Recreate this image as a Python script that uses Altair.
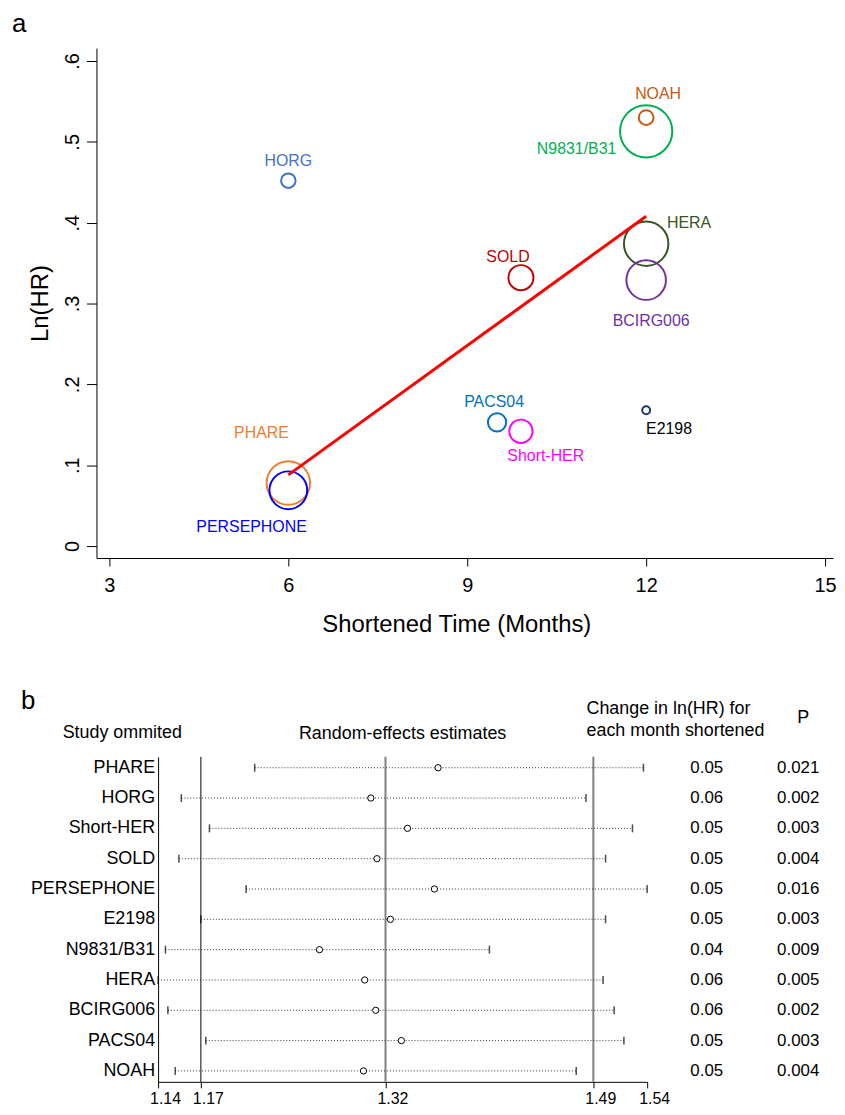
import altair as alt
import pandas as pd

FONT = "Liberation Sans"

# ---------------- panel a data ----------------
studies = ["HORG", "NOAH", "N9831/B31", "HERA", "BCIRG006", "SOLD",
           "PACS04", "Short-HER", "E2198", "PHARE", "PERSEPHONE"]
shortened_months = [6, 12, 12, 12, 12, 9.9, 9.5, 9.9, 12, 6, 6]
ln_hr = [0.452, 0.530, 0.513, 0.374, 0.329, 0.332, 0.153, 0.142, 0.168, 0.078, 0.069]
weights = [2.56, 2.66, 33.3, 24.0, 19.1, 7.67, 4.1, 6.6, 0.76, 23.0, 17.4]

fit_months = [6, 12]
fit_lnhr = [0.088, 0.408]

# styles
bubble_colors = ["#4472C4", "#C55A11", "#00B050", "#375623", "#7030A0", "#C00000",
                 "#0070C0", "#FF00FF", "#1F3864", "#ED7D31", "#0000FF"]
label_colors = ["#4472C4", "#C55A11", "#00B050", "#375623", "#7030A0", "#C00000",
                "#0070C0", "#FF00FF", "#000000", "#ED7D31", "#0000FF"]
label_style = {
    "HORG": (0, -20, "center"),
    "NOAH": (12, -24, "center"),
    "N9831/B31": (-30, 18, "right"),
    "HERA": (21, -21, "left"),
    "BCIRG006": (5, 41, "center"),
    "SOLD": (-13, -21, "center"),
    "PACS04": (-3, -20, "center"),
    "Short-HER": (25, 25, "center"),
    "E2198": (23, 19, "center"),
    "PHARE": (-27, -50, "center"),
    "PERSEPHONE": (-37, 37, "center"),
}

# ---------------- panel b data ----------------
omitted = ["PHARE", "HORG", "Short-HER", "SOLD", "PERSEPHONE", "E2198",
           "N9831/B31", "HERA", "BCIRG006", "PACS04", "NOAH"]
re_est = [1.367, 1.312, 1.342, 1.317, 1.364, 1.328, 1.270, 1.307, 1.316, 1.337, 1.306]
re_lo = [1.217, 1.157, 1.180, 1.155, 1.210, 1.173, 1.144, 1.138, 1.146, 1.177, 1.152]
re_hi = [1.535, 1.488, 1.526, 1.504, 1.538, 1.504, 1.409, 1.502, 1.511, 1.519, 1.480]
slope_txt = ["0.05", "0.06", "0.05", "0.05", "0.05", "0.05", "0.04", "0.06", "0.06", "0.05", "0.05"]
p_txt = ["0.021", "0.002", "0.003", "0.004", "0.016", "0.003", "0.009", "0.005", "0.002", "0.003", "0.004"]
overall_lo, overall_est, overall_hi = 1.173, 1.324, 1.494

# ================= panel a =================
bub = pd.DataFrame({"study": studies, "months": shortened_months,
                    "lnhr": ln_hr, "weight": weights})
fit = pd.DataFrame({"months": fit_months, "lnhr": fit_lnhr})

xA = alt.X("months:Q",
           scale=alt.Scale(domain=[2.783, 15.133], nice=False, zero=False),
           axis=alt.Axis(values=[3, 6, 9, 12, 15], title="Shortened Time (Months)",
                         grid=False, tickSize=8, labelFontSize=20, titleFontSize=24,
                         labelPadding=10, titlePadding=17, titleFontWeight="normal",
                         titleX=362, titleAlign="center",
                         domainColor="black", tickColor="black", labelColor="black",
                         titleColor="black", labelFlush=False, labelFont=FONT, titleFont=FONT))
yA = alt.Y("lnhr:Q",
           scale=alt.Scale(domain=[-0.0148, 0.616], nice=False, zero=False),
           axis=alt.Axis(values=[0, 0.1, 0.2, 0.3, 0.4, 0.5, 0.6], title="Ln(HR)",
                         labelExpr="datum.value == 0 ? '0' : replace(format(datum.value, '.1f'), '0.', '.')",
                         labelAngle=270, labelAlign="center", labelBaseline="bottom",
                         grid=False, tickSize=10, labelFontSize=20,
                         titleFontSize=24, titleFontWeight="normal", labelPadding=4,
                         titlePadding=10, domainColor="black", tickColor="black",
                         labelColor="black", titleColor="black", labelFlush=False,
                         labelFont=FONT, titleFont=FONT))

bubbles = alt.Chart(bub).mark_point(shape="circle", filled=False, strokeWidth=2, opacity=1).encode(
    x=xA, y=yA,
    size=alt.Size("weight:Q", scale=alt.Scale(domain=[0, 10], range=[0, 830]), legend=None),
    color=alt.Color("study:N", scale=alt.Scale(domain=studies, range=bubble_colors), legend=None),
)
line = alt.Chart(fit).mark_line(color="#FF0000", strokeWidth=3).encode(x=xA, y=yA)

label_layers = []
for s, col in zip(studies, label_colors):
    dx, dy, al = label_style[s]
    label_layers.append(
        alt.Chart(bub).transform_filter(alt.datum.study == s)
        .mark_text(dx=dx, dy=dy, align=al, baseline="middle", fontSize=16, font=FONT, color=col)
        .encode(x=xA, y=yA, text="study:N")
    )

chart_a = alt.layer(bubbles, line, *label_layers).properties(
    width=741, height=513,
    title=alt.Title("a", anchor="start", frame="group", fontSize=26, fontWeight="normal",
                    font=FONT, color="black", dx=-85, offset=11),
)

# ================= panel b =================
forest = pd.DataFrame({"study": omitted, "est": re_est, "lo": re_lo, "hi": re_hi,
                       "slope": slope_txt, "p": p_txt})
refs = pd.DataFrame({"v": [overall_lo, overall_est, overall_hi],
                     "kind": ["lo", "est", "hi"]})
ticks_b = [min(re_lo), overall_lo, overall_est, overall_hi, max(re_hi)]

ysc = alt.Scale(type="point", padding=0.36)
xB = alt.X("lo:Q", scale=alt.Scale(domain=[min(re_lo), max(re_hi)], nice=False, zero=False),
           axis=alt.Axis(values=ticks_b, format=".2f", title=None, grid=False, tickSize=6,
                         labelFontSize=16, labelPadding=3, labelOffset=7, labelFlush=False,
                         labelOverlap=False, domainColor="black", tickColor="black",
                         labelColor="black", labelFont=FONT))
yB = alt.Y("study:N", sort=omitted, scale=ysc,
           axis=alt.Axis(title=None, labels=False, ticks=False, domainColor="black"))

fb = alt.Chart(forest)
ci = fb.mark_rule(strokeDash=[1, 2], color="#333333", strokeWidth=1).encode(
    x=xB, x2="hi:Q", y=yB)
lo_tick = fb.mark_tick(color="black", size=8, thickness=1.5).encode(x=xB, y=yB)
hi_tick = fb.mark_tick(color="black", size=8, thickness=1.5).encode(x="hi:Q", y=yB)
ref_lo = alt.Chart(refs).transform_filter(alt.datum.kind == "lo").mark_rule(
    color="black", strokeWidth=1).encode(x="v:Q")
ref_other = alt.Chart(refs).transform_filter(alt.datum.kind != "lo").mark_rule(
    color="#7f7f7f", strokeWidth=2).encode(x="v:Q")
est_pts = fb.mark_circle(color="white", stroke="black", strokeWidth=1, opacity=1, size=40).encode(
    x="est:Q", y=yB)

forest_chart = alt.layer(ref_lo, ref_other, ci, lo_tick, hi_tick, est_pts).properties(
    width=492, height=327,
    title=alt.Title("Random-effects estimates", fontSize=18, fontWeight="normal", font=FONT,
                    color="black", anchor="middle", frame="group", dx=0, offset=13),
)

yT = alt.Y("study:N", sort=omitted, scale=ysc, axis=None)
label_col = alt.Chart(forest).mark_text(align="right", dx=29.5, fontSize=18, font=FONT,
                                        color="black", baseline="middle").encode(
    y=yT, text="study:N"
).properties(width=59, height=327,
             title=alt.Title("Study ommited", anchor="start", frame="group", dx=-34, offset=15,
                             fontSize=18, fontWeight="normal", font=FONT, color="black"))

col_slope = alt.Chart(forest).mark_text(fontSize=17, font=FONT, color="black", dx=4).encode(
    y=yT, text="slope:N"
).properties(width=106, height=327,
             title=alt.Title(["Change in ln(HR) for", "each month shortened"], anchor="start",
                             frame="group", fontSize=18, fontWeight="normal", font=FONT,
                             color="black", dx=-64, offset=17, lineHeight=22))
col_p = alt.Chart(forest).mark_text(fontSize=17, font=FONT, color="black", dx=5).encode(
    y=yT, text="p:N"
).properties(width=70, height=327,
             title=alt.Title("P", anchor="middle", frame="group", fontSize=18, fontWeight="normal",
                             font=FONT, color="black", offset=30, dx=10))

chart_b = alt.hconcat(label_col, forest_chart, col_slope, col_p, spacing=3,
                      bounds="flush").properties(
    title=alt.Title("b", anchor="start", frame="group", fontSize=26, fontWeight="normal",
                    font=FONT, color="black", dx=-76, dy=18))

chart = alt.vconcat(chart_a, chart_b, spacing=52).configure(
    font=FONT, padding={"left": 4, "top": 0, "right": 0, "bottom": 0}
).configure_view(stroke=None)

chart.save("out.html", embed_options={"renderer": "svg", "actions": False})
